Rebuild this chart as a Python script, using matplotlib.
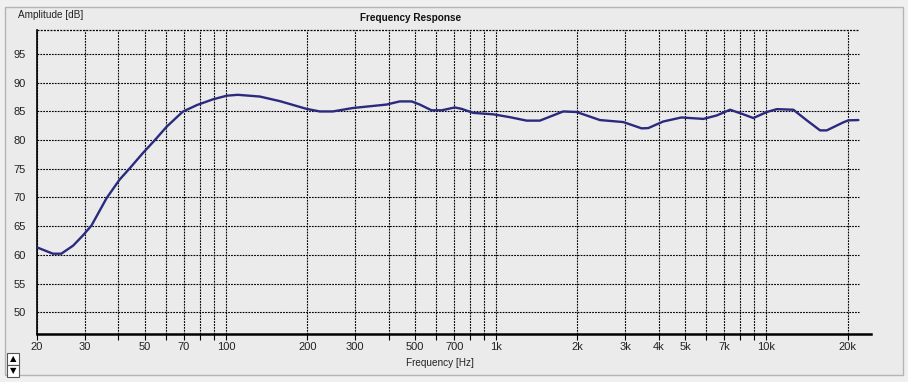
import matplotlib.pyplot as plt
from matplotlib.patches import Rectangle
from matplotlib.ticker import FixedLocator, NullFormatter

# ------------------------------------------------------------------
# data
# ------------------------------------------------------------------
freq = [20, 22.9, 24.6, 27.2, 29.6, 31.8, 36.2, 40.4, 44.1, 49.2, 54.6,
        60.4, 69.2, 78, 89.4, 100.8, 110.7, 133.5, 158.3, 198.8, 222.6, 248.8,
        295, 393, 440, 487, 522, 577, 629, 704, 745, 823, 976, 1125, 1297,
        1452, 1772, 1986, 2422, 2955, 3457, 3657, 4157, 4850, 5846, 6553,
        7338, 8110, 8954, 10038, 10934, 12590, 14118, 15811, 16737, 19278,
        20120, 21912]
spl = [61.3, 60.2, 60.2, 61.6, 63.4, 65.1, 69.9, 73.1, 75.1, 77.7, 80.0,
       82.35, 84.95, 86.1, 87.1, 87.75, 87.9, 87.6, 86.8, 85.45, 85.0, 85.0,
       85.6, 86.2, 86.75, 86.75, 86.2, 85.2, 85.2, 85.7, 85.45, 84.75, 84.5, 84.0, 83.4,
       83.4, 85.0, 84.9, 83.5, 83.15, 82.05, 82.1, 83.25, 83.95, 83.7, 84.3,
       85.3, 84.6, 83.85, 84.9, 85.4, 85.3, 83.45, 81.7, 81.7, 83.1,
       83.45, 83.5]

y_ticks = [50, 55, 60, 65, 70, 75, 80, 85, 90, 95]
x_major = [20, 30, 50, 70, 100, 200, 300, 500, 700, 1000, 2000, 3000, 4000,
           5000, 7000, 10000, 20000]
x_major_labels = ['20', '30', '50', '70', '100', '200', '300', '500', '700',
                  '1k', '2k', '3k', '4k', '5k', '7k', '10k', '20k']
x_minor = [40, 60, 80, 90, 400, 600, 800, 900, 6000, 8000, 9000]

BG = '#ebebeb'
LINE = '#2a2a7e'
TXT = '#222222'

plt.rcParams['font.family'] = ['Liberation Sans', 'DejaVu Sans']

fig = plt.figure(figsize=(9.08, 3.82), dpi=100)
fig.patch.set_facecolor('#f0f0f0')

# panel frame
fig.add_artist(Rectangle((5 / 908, 1 - 375 / 382), 898 / 908, 368 / 382,
                         transform=fig.transFigure, facecolor=BG,
                         edgecolor='#b4b4b4', lw=1.0, zorder=0))

ax = fig.add_axes([37 / 908, 1 - 334 / 382, 834 / 908, 304 / 382])
ax.set_facecolor('none')
ax.set_xscale('log')
ax.set_xlim(20, 24400)
ax.set_ylim(46.2, 99.2)

dash = (0, (1.6, 1.0))
# vertical grid on every decade multiple
ax.set_xticks(x_major)
ax.set_xticklabels(x_major_labels)
ax.xaxis.set_minor_locator(FixedLocator(x_minor))
ax.xaxis.set_minor_formatter(NullFormatter())
ax.grid(axis='x', which='both', color='black', linestyle=dash, lw=0.8)
# horizontal grid stops at end of the data range
ax.hlines(y_ticks, 20, 22000, colors='black', linestyles=dash, lw=0.8)
ax.hlines([99.2], 20, 22000, colors='black', linestyles=dash, lw=0.9, clip_on=False)

ax.plot(freq, spl, color=LINE, lw=1.7, solid_joinstyle='round',
        solid_capstyle='round', zorder=3)

ax.set_yticks(y_ticks)
ax.tick_params(axis='y', length=0, pad=8, labelsize=8, labelcolor=TXT)
ax.tick_params(axis='x', which='both', length=4, width=0.8, direction='out',
               pad=2, labelsize=8, labelcolor=TXT)

for s in ['top', 'right']:
    ax.spines[s].set_visible(False)
ax.spines['left'].set_linewidth(1.2)
ax.spines['bottom'].set_linewidth(1.8)

fig.text(411 / 908, 1 - 18 / 382, 'Frequency Response', ha='center', va='center',
         fontsize=7.2, fontweight='bold', color='#111111')
fig.text(18 / 908, 1 - 15 / 382, 'Amplitude [dB]', ha='left', va='center',
         fontsize=7.2, color=TXT)
fig.text(440 / 908, 1 - 363 / 382, 'Frequency [Hz]', ha='center', va='center',
         fontsize=7.2, color=TXT)

# little up/down buttons, bottom left
for top, sym in [(353, '\u25b2'), (365, '\u25bc')]:
    fig.add_artist(Rectangle((7 / 908, 1 - (top + 12) / 382), 12 / 908, 12 / 382,
                             transform=fig.transFigure, facecolor='white',
                             edgecolor='#555555', lw=0.8))
    fig.text(13 / 908, 1 - (top + 6) / 382, sym, ha='center', va='center',
             fontsize=6, family='DejaVu Sans', color='black')

fig.savefig('out.png', dpi=100, facecolor=fig.get_facecolor())
